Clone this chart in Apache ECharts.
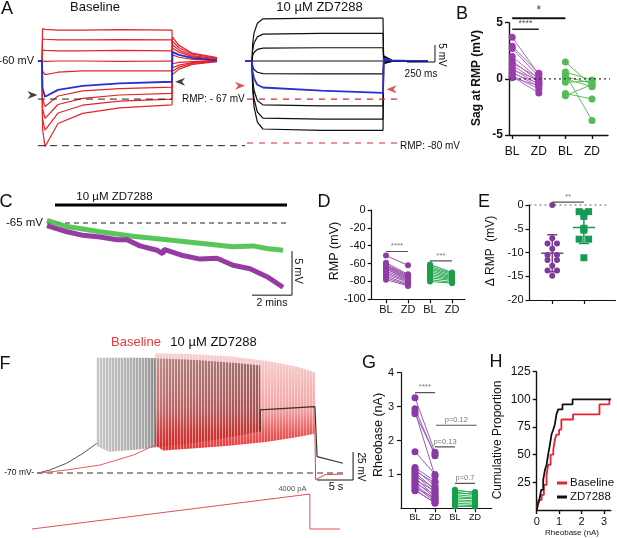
<!DOCTYPE html>
<html><head><meta charset="utf-8">
<script src="https://cdn.jsdelivr.net/npm/echarts@6/dist/echarts.min.js"></script>
<style>html,body{margin:0;padding:0;background:#fff}#c{width:617px;height:538px}</style>
</head><body><div id="c"></div>
<script>
const FONT = '"Liberation Sans", Arial, Helvetica, sans-serif';

// ---------------- Panel A (ms, mV) ----------------
const A_BL_TIMES = [107, 112, 134, 250, 470, 800, 1268, 1272, 1330, 1450, 1670];
const A_BL_TRACES = [
  [-60,-50.5,-50.7,-50.9,-50.9,-50.8,-50.9,-64.0,-62.4,-61.0,-60.2],
  [-60,-53.5,-53.6,-53.8,-53.8,-53.7,-53.8,-63.0,-61.8,-60.7,-60.1],
  [-60,-56.8,-56.9,-57.0,-57.0,-56.9,-57.0,-62.0,-61.2,-60.5,-60.0],
  [-60,-60.0,-60.1,-60.0,-60.0,-60.1,-60.0,-60.8,-60.4,-60.2,-60.0],
  [-60,-63.0,-64.0,-63.3,-62.9,-62.9,-62.9,-58.2,-58.9,-59.5,-59.9],
  [-60,-71.0,-73.4,-70.3,-68.8,-68.1,-67.7,-56.2,-57.4,-58.7,-59.6],
  [-60,-74.0,-76.9,-72.8,-71.0,-70.0,-69.5,-55.2,-56.8,-58.4,-59.4],
  [-60,-77.0,-80.3,-75.3,-73.0,-71.8,-71.2,-54.2,-56.1,-58.0,-59.2],
  [-60,-80.0,-85.2,-78.4,-75.4,-73.8,-72.9,-53.0,-55.4,-57.7,-59.0]
];
const A_BL_BLUE_TIMES = [71, 107, 112, 134, 250, 470, 800, 1268, 1272, 1330, 1450, 1670];
const A_BL_BLUE = [-60,-60,-68.0,-70.5,-68.5,-67.3,-66.6,-66.1,-57.3,-58.2,-59.1,-59.9];
const A_ZD_TIMES = [1982, 1988, 2000, 2030, 2080, 2600, 3152, 3158, 3230, 3553];
const A_ZD_TRACES = [
  [-60,-55.0,-51.8,-48.9,-47.6,-47.4,-47.4,-60.8,-60.1,-60.0],
  [-60,-56.8,-54.7,-52.9,-52.1,-51.9,-51.9,-60.6,-60.1,-60.0],
  [-60,-58.4,-57.5,-56.6,-56.2,-56.1,-56.1,-60.3,-60.0,-60.0],
  [-60,-60.0,-60.0,-60.0,-60.0,-60.0,-60.0,-60.0,-60.0,-60.0],
  [-60,-61.5,-62.5,-63.3,-63.7,-63.8,-63.8,-59.6,-59.9,-60.0],
  [-60,-65.3,-68.6,-71.6,-72.9,-73.2,-73.2,-59.0,-59.8,-60.0],
  [-60,-66.8,-71.1,-75.0,-76.8,-77.1,-77.1,-58.8,-59.8,-60.0],
  [-60,-68.3,-73.4,-78.0,-80.0,-80.4,-80.4,-58.5,-59.7,-60.0]
];
const A_ZD_BLUE_TIMES = [1920, 1982, 1988, 2000, 2030, 2080, 2600, 3152, 3158, 3230, 3553];
const A_ZD_BLUE = [-60,-60,-63.2,-65.1,-67.0,-67.8,-68.7,-69.4,-59.3,-59.9,-60];
const A_DASH_BLACK = [[[71,-71.2],[1268,-71.2]], [[71,-84.9],[1920,-84.9]]];
const A_DASH_RED = [[[1937,-71.2],[3277,-71.2]], [[1937,-84.1],[3277,-84.1]]];
const A_ARROWS_RIGHT_BLACK = [[22,-70]];
const A_ARROWS_LEFT_BLACK = [[1340,-66.1]];
const A_ARROWS_RIGHT_RED = [[1875,-67.3]];
const A_ARROWS_LEFT_RED = [[3228,-68.3]];
const A_SCALE = [[3366,-60.3],[3616,-60.3],[3616,-55.3]];

// ---------------- Panel B (mV) ----------------
const B_CATS = ['BL','ZD','BL','ZD'];
const B_PURPLE_BL = [3.7, 2.9, 2.7, 2.0, 1.6, 1.4, 1.2, 0.9, 0.8, 0.6, 0.5, 0.3, 0.2, 0.1];
const B_PURPLE_ZD = [0.4, 0.5, 0.2, 0.0, -0.2, 0.1, -0.3, -0.5, -0.1, -0.7, -0.4, -0.9, -1.25, -0.6];
const B_GREEN_BL = [1.5, 0.6, 0.4, 0.2, 0.0, -0.3, -1.3, -1.5];
const B_GREEN_ZD = [-0.6, -0.1, -3.7, -0.4, -0.7, -0.2, -1.8, -0.5];

// ---------------- Panel C (min, mV) ----------------
const C_GREEN = [[0,-64.7],[1,-65.4],[2.65,-66.0],[4.3,-66.5],[6,-66.9],[7.65,-67.3],[9.3,-67.7],[10.3,-67.6],[11,-67.9],[11.8,-68.1]];
const C_PURPLE = [[0,-65.3],[1,-66.0],[1.8,-66.4],[2.65,-66.6],[3.5,-66.9],[4.0,-66.9],[4.65,-67.6],[5.5,-68.1],[5.8,-68.5],[5.85,-68.0],[6.8,-68.7],[7.65,-69.1],[8.5,-69.0],[9.3,-69.8],[10.15,-70.2],[11.0,-71.1],[11.8,-72.3]];
const C_DRUG_BAR = [[0.4,-62.95],[12,-62.95]];
const C_REF = [[0,-65],[12,-65]];
const C_SCALE = [[10.25,-73.2],[12.25,-73.2],[12.25,-68.2]];

// ---------------- Panel D (mV) ----------------
const D_CATS = ['BL','ZD','BL','ZD'];
const D_PURPLE_BL = [-51, -59, -61, -62, -63, -64, -65, -66, -68, -70, -72, -74, -76, -78];
const D_PURPLE_ZD = [-62, -72, -73, -74, -75, -76, -77, -78, -79, -80, -81, -83, -84, -85];
const D_GREEN_BL = [-61, -63, -65, -66, -68, -70, -72, -74, -76, -78, -80];
const D_GREEN_ZD = [-70, -71, -72, -74, -75, -76, -77, -78, -79, -81, -82];

// ---------------- Panel E (mV) ----------------
const E_PURPLE = [0, -7.0, -8.1, -8.1, -9.2, -10.5, -10.5, -11.6, -11.6, -12.8, -13.8, -13.8, -14.9];
const E_GREEN = [-1.4, -1.4, -1.7, -2.4, -4.9, -5.3, -7.2, -7.2, -11.1];

// ---------------- Panel F (s, mV, pA) ----------------
const F_BLK_PRE = [[0,-70.3],[1.8,-67.3],[4.1,-61.3],[6.4,-52.4],[8.3,-43.5]];
const F_RED_PRE = [[0,-70.3],[4.1,-67.3],[8.75,-62.9],[13.4,-53.9],[16.4,-45]];
const F_BLK_TOP = [[8.3,33],[15,33],[22,31],[28,28],[31,26]];
const F_BLK_BOT = [[8.3,-46],[10,-51],[14,-49],[18,-46],[22,-43],[26,-39],[31,-33]];
const F_BLK_POST = [[31,-33],[31,-13.7],[38.6,-10.8],[38.9,-55.4],[42.5,-61.3]];
const F_RED_TOP = [[16.4,37],[22,36],[27,34],[32,30],[36,25],[38.6,20]];
const F_RED_BOT = [[16.4,-45],[17.5,-50],[22,-48],[27,-45.5],[32,-42],[36,-38],[38.6,-35]];
const F_RED_POST = [[38.6,-35],[38.7,-76],[40,-71.5],[42.5,-71]];
const F_REF = [[0,-70],[43,-70]];
const F_SCALE = [[38.9,-76.25],[43.9,-76.25],[43.9,-51.25]];
const F_CURRENT = [[-0.7,0],[37.9,4000],[37.9,0],[42.1,0]];

// ---------------- Panel G (nA) ----------------
const G_CATS = ['BL','ZD','BL','ZD'];
const G_PURPLE_BL = [3.26, 2.94, 2.85, 2.79, 1.67, 1.20, 1.15, 1.10, 1.05, 1.00, 0.95, 0.90, 0.85, 0.80, 0.75, 0.70, 0.65, 0.60, 0.55, 0.52];
const G_PURPLE_ZD = [1.65, 1.55, 0.95, 1.60, 1.00, 0.80, 0.65, 0.75, 0.55, 0.45, 0.60, 0.35, 0.50, 0.30, 0.40, 0.25, 0.20, 0.30, 0.15, 0.18];
const G_GREEN_BL = [0.55, 0.52, 0.48, 0.45, 0.40, 0.35, 0.30, 0.25, 0.20, 0.15, 0.10, 0.06];
const G_GREEN_ZD = [0.45, 0.48, 0.40, 0.42, 0.35, 0.30, 0.28, 0.22, 0.18, 0.12, 0.08, 0.05];

// ---------------- Panel H (nA, %) ----------------
const H_BASELINE = [[0,0],[0.07,9.1],[0.22,13.6],[0.32,22.7],[0.44,31.8],[0.51,40.9],[0.62,50],[0.74,54.5],[0.81,63.6],[0.88,68.2],[1.0,72.7],[1.1,81.8],[1.62,86.4],[2.8,95.5],[3.24,100],[3.3,100]];
const H_ZD = [[0,0],[0.05,4.5],[0.12,9.1],[0.2,18.2],[0.29,27.3],[0.37,36.4],[0.44,40.9],[0.51,50],[0.59,59.1],[0.66,68.2],[0.74,72.7],[0.81,77.3],[0.88,86.4],[0.96,90.9],[1.15,95.5],[1.6,100],[3.3,100]];

// ================= build =================
const zip = (xs, ys) => xs.map((x, i) => [x, ys[i]]);
const series = [];
function line(gi, data, color, width, dash, extra) {
  return Object.assign({
    type: 'line', xAxisIndex: gi, yAxisIndex: gi, data, symbol: 'none', silent: true,
    clip: false, animation: false, color, itemStyle: { color },
    lineStyle: { color, width, type: dash || 'solid', cap: 'butt' }
  }, extra || {});
}
function pairs(gi, x0, x1, a, b, color, width) {
  return {
    type: 'lines', coordinateSystem: 'cartesian2d', xAxisIndex: gi, yAxisIndex: gi,
    silent: true, animation: false,
    data: a.map((v, i) => ({ coords: [[x0, v], [x1, b[i]]] })),
    lineStyle: { color, width, opacity: 1 }
  };
}
function dots(gi, data, color, size, symbol) {
  return { type: 'scatter', xAxisIndex: gi, yAxisIndex: gi, data, symbol: symbol || 'circle',
    symbolSize: size, itemStyle: { color, opacity: 1 }, silent: true, animation: false, clip: false };
}
function sig(gi, x1, x2, y, text, fs, color, w) {
  series.push(line(gi, [[x1, y], [x2, y]], color || '#222', w || 1.5));
  series.push({ type: 'scatter', xAxisIndex: gi, yAxisIndex: gi, data: [[(x1 + x2) / 2, y]],
    symbolSize: 1, itemStyle: { color: 'rgba(0,0,0,0)' }, silent: true, animation: false, clip: false,
    label: { show: true, position: 'top', distance: 1, formatter: text, fontSize: fs,
      color: color || '#222', fontFamily: FONT } });
}
const ARROW = 'path://M0,0L10,5L0,10L3,5Z';
function arrows(pts, color, rot) {
  series.push({ type: 'scatter', xAxisIndex: 0, yAxisIndex: 0, data: pts, symbol: ARROW,
    symbolSize: [10, 8], symbolRotate: rot, itemStyle: { color }, silent: true, animation: false, clip: false });
}

// ---- A
A_BL_TRACES.forEach(v => series.push(line(0, zip(A_BL_TIMES, v), '#e4232a', 1.2)));
series.push(line(0, zip(A_BL_BLUE_TIMES, A_BL_BLUE), '#2b2fd3', 1.8));
A_ZD_TRACES.forEach(v => series.push(line(0, zip(A_ZD_TIMES, v), '#111', 1.2)));
series.push(line(0, zip(A_ZD_BLUE_TIMES, A_ZD_BLUE), '#2b2fd3', 1.8));
A_DASH_BLACK.forEach(d => series.push(line(0, d, '#222', 1, [7, 5])));
A_DASH_RED.forEach(d => series.push(line(0, d, '#e4232a', 1.1, [6, 6])));
arrows(A_ARROWS_RIGHT_BLACK, '#111', 0);
arrows(A_ARROWS_LEFT_BLACK, '#111', 180);
arrows(A_ARROWS_RIGHT_RED, '#e4232a', 0);
arrows(A_ARROWS_LEFT_RED, '#e4232a', 180);
series.push(line(0, A_SCALE, '#111', 1));

// ---- B
series.push(line(1, [[-0.12, 0], [3.79, 0]], '#333', 1.2, [2, 3]));
series.push(pairs(1, 0, 1, B_PURPLE_BL, B_PURPLE_ZD, '#b06ac2', 1));
series.push(pairs(1, 2, 3, B_GREEN_BL, B_GREEN_ZD, '#5fbf5f', 1));
series.push(dots(1, B_PURPLE_BL.map(v => [0, v]), '#9b3cad', 7));
series.push(dots(1, B_PURPLE_ZD.map(v => [1, v]), '#9b3cad', 7));
series.push(dots(1, B_GREEN_BL.map(v => [2, v]), '#56ba56', 7));
series.push(dots(1, B_GREEN_ZD.map(v => [3, v]), '#56ba56', 7));
sig(1, 0, 1, 4.42, '****', 9, '#222', 1.5);
sig(1, 0, 2, 5.4, '*', 12, '#111', 2);

// ---- C
series.push(line(2, C_REF, '#222', 1, [5, 4]));
series.push(line(2, C_DRUG_BAR, '#000', 3));
series.push(line(2, C_GREEN, 'rgba(70,192,70,0.9)', 5));
series.push(line(2, C_PURPLE, 'rgba(140,42,154,0.92)', 5));
series.push(line(2, C_SCALE, '#111', 1));

// ---- D
series.push(pairs(3, 0, 1, D_PURPLE_BL, D_PURPLE_ZD, '#9a55ad', 1));
series.push(pairs(3, 2, 3, D_GREEN_BL, D_GREEN_ZD, '#2aa955', 1));
series.push(dots(3, D_PURPLE_BL.map(v => [0, v]), '#8e3ea3', 6));
series.push(dots(3, D_PURPLE_ZD.map(v => [1, v]), '#8e3ea3', 6));
series.push(dots(3, D_GREEN_BL.map(v => [2, v]), '#1f9e4a', 6));
series.push(dots(3, D_GREEN_ZD.map(v => [3, v]), '#1f9e4a', 6));
sig(3, 0, 1, -46.5, '****', 8, '#555', 1.2);
sig(3, 2, 3, -57, '***', 8, '#555', 1.2);

// ---- E
function swarm(vals, x0) {
  const seen = {};
  return vals.map(v => {
    const n = vals.filter(u => u === v).length;
    const k = seen[v] = (seen[v] || 0) + 1;
    return [n > 1 ? x0 + (k === 1 ? -0.15 : 0.15) : x0, v];
  });
}
function meanSd(vals) {
  const m = vals.reduce((a, b) => a + b, 0) / vals.length;
  const sd = Math.sqrt(vals.reduce((a, b) => a + (b - m) * (b - m), 0) / (vals.length - 1));
  return [m, sd];
}
series.push(line(4, [[-0.72, 0], [1.75, 0]], '#666', 1.2, [2, 3]));
[[E_PURPLE, 0, '#7d3c98', 'circle', 6], [E_GREEN, 1, '#169b57', 'rect', 7]].forEach(([vals, x, col, sym, sz]) => {
  const [m, sd] = meanSd(vals);
  series.push(line(4, [[x - 0.35, m], [x + 0.35, m]], col, 1.5));
  series.push(line(4, [[x, m - sd], [x, m + sd]], col, 1.5));
  series.push(line(4, [[x - 0.16, m - sd], [x + 0.16, m - sd]], col, 1.5));
  series.push(line(4, [[x - 0.16, m + sd], [x + 0.16, m + sd]], col, 1.5));
  series.push(dots(4, swarm(vals, x), col, sz, sym));
});
sig(4, 0, 1, 0.6, '**', 8, '#555', 1.2);

// ---- F
function stripePattern(color, period, w) {
  const c = document.createElement('canvas');
  c.width = period; c.height = 4;
  const ctx = c.getContext('2d');
  ctx.fillStyle = color; ctx.fillRect(0, 0, w, 4);
  return { image: c, repeat: 'repeat' };
}
function poly(top, bot, fill) {
  const pts = top.concat(bot.slice().reverse());
  series.push({ type: 'custom', xAxisIndex: 5, yAxisIndex: 5, data: [[0, 0]], clip: false, silent: true, animation: false,
    renderItem: (params, api) => ({ type: 'polygon', shape: { points: pts.map(p => api.coord(p)) }, style: { fill } }) });
}
series.push(line(5, F_REF, '#333', 1, [6, 4]));
series.push(line(5, F_BLK_PRE, '#555', 1));
series.push(line(5, F_RED_PRE, '#e06060', 1));
poly(F_BLK_TOP, F_BLK_BOT, new echarts.graphic.LinearGradient(0, 0, 1, 0, [
  { offset: 0, color: 'rgba(185,185,185,0.8)' }, { offset: 0.3, color: 'rgba(150,150,150,0.85)' },
  { offset: 0.42, color: 'rgba(80,80,80,0.9)' }, { offset: 1, color: 'rgba(30,30,30,0.95)' }]));
poly(F_BLK_TOP, F_BLK_BOT, stripePattern('rgba(255,255,255,0.55)', 3, 1));
poly(F_RED_TOP, F_RED_BOT, new echarts.graphic.LinearGradient(0, 0, 0, 1, [
  { offset: 0, color: 'rgba(244,165,165,0.55)' }, { offset: 0.55, color: 'rgba(238,112,112,0.62)' },
  { offset: 0.8, color: 'rgba(230,55,55,0.8)' }, { offset: 1, color: 'rgba(225,30,30,0.9)' }]));
poly(F_RED_TOP, F_RED_BOT, stripePattern('rgba(255,255,255,0.4)', 3, 1));
series.push(line(5, F_BLK_POST, '#333', 1.2));
series.push(line(5, F_RED_POST, '#e04848', 1));
series.push(line(5, F_SCALE, '#111', 1));
series.push(line(6, F_CURRENT, '#e05050', 1));
series.push({ type: 'scatter', xAxisIndex: 6, yAxisIndex: 6, data: [F_CURRENT[1]], symbolSize: 1,
  itemStyle: { color: 'rgba(0,0,0,0)' }, silent: true, animation: false, clip: false,
  label: { show: true, position: 'left', distance: 3, offset: [0, -5], formatter: '4000 pA', fontSize: 7.5, color: '#222', fontFamily: FONT } });

// ---- G
series.push(pairs(7, 0, 1, G_PURPLE_BL, G_PURPLE_ZD, '#9c5cb5', 1));
series.push(pairs(7, 2, 3, G_GREEN_BL, G_GREEN_ZD, '#2db35a', 1));
series.push(dots(7, G_PURPLE_BL.map(v => [0, v]), '#8a3aa5', 7));
series.push(dots(7, G_PURPLE_ZD.map(v => [1, v]), '#8a3aa5', 7));
series.push(dots(7, G_GREEN_BL.map(v => [2, v]), '#17a04c', 6));
series.push(dots(7, G_GREEN_ZD.map(v => [3, v]), '#17a04c', 6));
sig(7, 0, 1, 3.41, '****', 8, '#555', 1.2);
sig(7, 1.05, 3.08, 2.45, 'p=0.12', 7.5, '#555', 1.2);
sig(7, 1, 2, 1.81, 'p=0.13', 7.5, '#555', 1.2);
sig(7, 2, 3, 0.735, 'p=0.7', 7.5, '#555', 1.2);

// ---- H
series.push(line(8, H_BASELINE, '#e3262b', 1.8, null, { name: 'Baseline', step: 'end' }));
series.push(line(8, H_ZD, '#111', 1.8, null, { name: 'ZD7288', step: 'end' }));

// ---- axes
const grids = [
  { left: 30, top: 10, width: 420, height: 142.8 },
  { left: 509, top: 22.7, width: 99, height: 112.3 },
  { left: 47, top: 196.6, width: 245, height: 105.6 },
  { left: 371.7, top: 210, width: 93.3, height: 89.3 },
  { left: 529.5, top: 205, width: 86, height: 95 },
  { left: 29.8, top: 344.2, width: 338.4, height: 145.6 },
  { left: 29.8, top: 485.3, width: 338.4, height: 48.1 },
  { left: 401, top: 372.7, width: 90.7, height: 135.6 },
  { left: 536.7, top: 371.7, width: 74, height: 138.3 }
].map(g => Object.assign({ containLabel: false, outerBoundsMode: 'none' }, g));

const AX = '#111';
function visAxis(gi, min, max, o) {
  o = o || {};
  const a = {
    type: 'value', gridIndex: gi, min, max, interval: o.interval,
    axisLine: { show: true, onZero: false, lineStyle: { color: AX, width: o.lw || 1.4 } },
    axisTick: { show: o.tick !== false, length: o.tickLen || 4, lineStyle: { color: AX, width: o.lw || 1.4 } },
    axisLabel: { show: o.label !== false, fontSize: o.fs || 11, color: '#111', margin: o.margin || 6, fontFamily: FONT,
      fontWeight: o.fw || 'normal', showMinLabel: o.showMin !== false },
    splitLine: { show: false }
  };
  if (o.cats) {
    const cv = o.cats.map((c, i) => i);
    a.axisTick.customValues = cv;
    a.axisLabel.customValues = cv;
    a.axisLabel.formatter = v => o.cats[Math.round(v)];
  }
  return a;
}
const hid = (gi, min, max) => ({ type: 'value', gridIndex: gi, min, max, show: false, splitLine: { show: false } });

const xAxis = [
  hid(0, 0, 3750),
  visAxis(1, -0.12, 3.6, { cats: B_CATS, fs: 12, margin: 11 }),
  hid(2, 0, 12.25),
  visAxis(3, -0.65, 3.59, { cats: D_CATS, fs: 11, margin: 5, lw: 1.2 }),
  visAxis(4, -0.72, 2.0, { cats: ['', ''], label: false, lw: 1.2 }),
  hid(5, -1, 46),
  hid(6, -1, 46),
  visAxis(7, -0.7, 3.835, { cats: G_CATS, fs: 9, margin: 5, lw: 1.2 }),
  visAxis(8, 0, 3.3, { interval: 1, fs: 11, margin: 6, lw: 1.4 })
];
const yAxis = [
  hid(0, -87, -45),
  visAxis(1, -5, 5, { interval: 5, fs: 12, fw: 'bold', margin: 6 }),
  hid(2, -74, -62),
  visAxis(3, -100, 0, { interval: 20, fs: 11, margin: 6, lw: 1.2 }),
  visAxis(4, -20, 0, { interval: 5, fs: 11, margin: 6, lw: 1.2 }),
  hid(5, -85, 45),
  hid(6, -500, 5000),
  visAxis(7, 0, 4, { interval: 1, fs: 11, margin: 7, lw: 1.2, showMin: false }),
  visAxis(8, 0, 125, { interval: 25, fs: 12, margin: 6, lw: 1.4, showMin: false })
];

function T(text, x, y, o) {
  o = o || {};
  return { type: 'text', x, y, rotation: o.rot || 0, z: 100, silent: true,
    style: { text, fontSize: o.fs || 12, fontFamily: FONT, fontWeight: o.fw || 'normal', fill: o.fill || '#111',
      align: o.align || 'center', verticalAlign: 'middle' } };
}
const R = Math.PI / 2;
const graphic = [
  T('A', 7, 9, { fs: 18 }),
  T('Baseline', 95, 7.5, { fs: 13 }),
  T('10 \u00b5M ZD7288', 319.5, 7.5, { fs: 13 }),
  T('-60 mV', 34, 61, { fs: 11, align: 'right' }),
  T('RMP: - 67 mV', 182, 99, { fs: 10, align: 'left' }),
  T('RMP: -80 mV', 400, 146, { fs: 10, align: 'left' }),
  T('250 ms', 421, 74, { fs: 10 }),
  T('5 mV', 442, 55, { fs: 10, rot: -R }),
  T('B', 462, 14, { fs: 18 }),
  T('Sag at RMP (mV)', 477, 78, { fs: 12, fw: 'bold', rot: R }),
  T('C', 6, 202, { fs: 18 }),
  T('10 \u00b5M ZD7288', 114.5, 197, { fs: 11.5 }),
  T('-65 mV', 43, 223, { fs: 11.5, align: 'right' }),
  T('5 mV', 298, 271, { fs: 11, rot: -R }),
  T('2 mins', 272, 303, { fs: 10.5 }),
  T('D', 324, 202, { fs: 18 }),
  T('RMP (mV)', 335, 251, { fs: 12.5, rot: R }),
  T('E', 484, 202, { fs: 18 }),
  T('\u0394 RMP  (mV)', 491, 251, { fs: 12, rot: R }),
  T('F', 5, 364, { fs: 18 }),
  T('Baseline', 136, 342, { fs: 13, fill: '#e8383a' }),
  T('10 \u00b5M ZD7288', 213.5, 342, { fs: 13 }),
  T('-70 mV-', 34, 473, { fs: 8.5, align: 'right' }),
  T('25 mV', 361, 467, { fs: 10, rot: -R }),
  T('5 s', 336, 487, { fs: 11 }),
  T('G', 369, 363, { fs: 18 }),
  T('Rheobase (nA)', 379, 435, { fs: 12.5, rot: R }),
  T('H', 496, 362, { fs: 18 }),
  T('Cumulative Proportion', 498, 440, { fs: 12, rot: R }),
  T('Rheobase (nA)', 572, 533, { fs: 8 })
];

const chart = echarts.init(document.getElementById('c'), null, { renderer: 'canvas' });
chart.setOption({
  animation: false,
  backgroundColor: '#fff',
  grid: grids, xAxis, yAxis, series, graphic,
  legend: { data: ['Baseline', 'ZD7288'], left: 557, top: 477, orient: 'vertical', itemWidth: 10, itemHeight: 3,
    itemGap: 2, icon: 'rect', padding: 0, selectedMode: false,
    textStyle: { fontSize: 11.5, color: '#111', fontFamily: FONT, padding: [0, 0, 0, -2] } }
});
</script></body></html>
